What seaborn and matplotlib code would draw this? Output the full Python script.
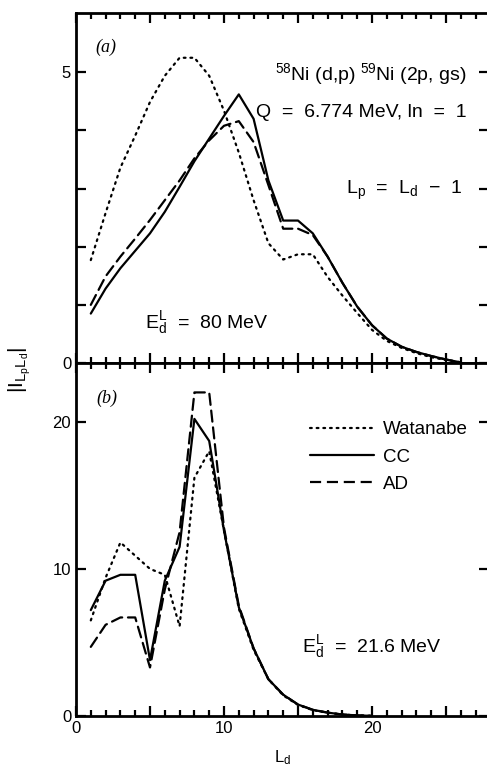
import numpy as np
import pandas as pd
import matplotlib
matplotlib.use("Agg")
import matplotlib.pyplot as plt
from matplotlib.lines import Line2D
from matplotlib.ticker import MultipleLocator, FixedLocator
import seaborn as sns

# ---------------- data ----------------
models = ["Watanabe", "CC", "AD"]

L_a = list(range(1, 27))
wat_a = [1.77, 2.58, 3.36, 3.91, 4.49, 4.94, 5.25, 5.25, 4.94, 4.34, 3.62, 2.80, 2.06,
         1.78, 1.87, 1.87, 1.48, 1.16, 0.86, 0.57, 0.38, 0.26, 0.17, 0.10, 0.05, 0.01]
cc_a = [0.85, 1.28, 1.63, 1.93, 2.23, 2.60, 3.03, 3.47, 3.86, 4.25, 4.62, 4.20, 3.14,
        2.45, 2.45, 2.23, 1.83, 1.38, 0.97, 0.65, 0.42, 0.28, 0.19, 0.12, 0.06, 0.01]
ad_a = [1.00, 1.49, 1.83, 2.14, 2.46, 2.80, 3.14, 3.52, 3.83, 4.08, 4.16, 3.80, 3.06,
        2.31, 2.31, 2.20, 1.83, 1.38, 0.97, 0.65, 0.42, 0.28, 0.19, 0.12, 0.06, 0.01]

L_b = list(range(1, 21))
wat_b = [6.5, 9.4, 11.8, 10.9, 10.0, 9.6, 6.1, 16.2, 18.0, 12.6, 7.3, 4.5, 2.5,
         1.4, 0.75, 0.40, 0.22, 0.10, 0.04, 0.01]
cc_b = [7.2, 9.2, 9.6, 9.6, 3.8, 9.2, 11.5, 20.2, 18.7, 12.6, 7.4, 4.6, 2.5,
        1.45, 0.78, 0.42, 0.23, 0.10, 0.04, 0.01]
ad_b = [4.7, 6.2, 6.7, 6.7, 3.3, 8.6, 12.5, 22.0, 22.0, 12.8, 7.5, 4.6, 2.5,
        1.45, 0.78, 0.42, 0.23, 0.10, 0.04, 0.01]

x_ticklabels = ["0", "10", "20"]


def long_df(L, series):
    rows = []
    for name, vals in zip(models, series):
        for l, v in zip(L, vals):
            rows.append({"L": l, "I": v, "model": name})
    return pd.DataFrame(rows)


df_a = long_df(L_a, [wat_a, cc_a, ad_a])
df_b = long_df(L_b, [wat_b, cc_b, ad_b])

# ---------------- style ----------------
sns.set_style("ticks")
plt.rcParams["font.family"] = ["Liberation Sans", "DejaVu Sans"]
plt.rcParams["mathtext.fontset"] = "custom"
plt.rcParams["mathtext.rm"] = "Liberation Sans"
plt.rcParams["mathtext.it"] = "Liberation Sans:italic"
plt.rcParams["mathtext.bf"] = "Liberation Sans:bold"
plt.rcParams["text.color"] = "black"
plt.rcParams["axes.labelcolor"] = "black"
plt.rcParams["xtick.color"] = "black"
plt.rcParams["ytick.color"] = "black"

LW = 1.6
dash_map = {"Watanabe": (0.8, 2.2), "CC": "", "AD": (5, 2.6)}

W, H = 487, 768
fig = plt.figure(figsize=(W / 100, H / 100), dpi=100)
left_px, right_px = 76, 489
ax_a = fig.add_axes([left_px / W, 1 - 363 / H, (right_px - left_px) / W, (363 - 13) / H])
ax_b = fig.add_axes([left_px / W, 1 - 716 / H, (right_px - left_px) / W, (716 - 363) / H])

for ax, df in ((ax_a, df_a), (ax_b, df_b)):
    sns.lineplot(data=df, x="L", y="I", style="model", style_order=models,
                 dashes=dash_map, color="black", linewidth=LW, ax=ax, legend=False)
    for ln in ax.get_lines():
        ln.set_dash_capstyle("round")
    ax.set_xlim(0, (right_px - left_px) / 14.8)
    ax.xaxis.set_major_locator(MultipleLocator(5))
    ax.xaxis.set_minor_locator(MultipleLocator(1))
    ax.tick_params(which="both", direction="in", top=True, bottom=True,
                   left=True, right=True, width=1.6, labelsize=12,
                   colors="black", labelcolor="black")
    ax.tick_params(which="major", length=7)
    ax.tick_params(which="minor", length=4)
    for s in ax.spines.values():
        s.set_linewidth(2.0)
        s.set_color("black")
    ax.set_xlabel("")
    ax.set_ylabel("")
    ax.set_facecolor("white")

# top panel
ax_a.set_ylim(0, 6.02)
ax_a.yaxis.set_major_locator(FixedLocator([0, 1, 2, 3, 4, 5]))
ax_a.set_yticklabels(["0", "", "", "", "", "5"])
ax_a.tick_params(axis="x", labelbottom=False)

# bottom panel
ax_b.set_ylim(0, 24.0)
ax_b.yaxis.set_major_locator(FixedLocator([0, 10, 20]))
ax_b.set_yticklabels(["0", "10", "20"])
ax_b.xaxis.set_major_locator(FixedLocator([0, 5, 10, 15, 20, 25]))
ax_b.set_xticklabels(["0", "", "10", "", "20", ""])

FS = 14
# annotations (a)
ax_a.text(1.28, 5.43, "(a)", fontsize=13, family=["Liberation Serif"], style="italic",
          va="center", ha="left")
ax_a.text(26.4, 4.86, r"$^{58}$Ni (d,p) $^{59}$Ni (2p, gs)", fontsize=FS,
          ha="right", va="baseline")
ax_a.text(26.4, 4.23, "Q  =  6.774 MeV, ln  =  1", fontsize=FS, ha="right", va="baseline")
ax_a.text(26.1, 2.90, r"L$_\mathrm{p}$  =  L$_\mathrm{d}$  $-$  1", fontsize=FS,
          ha="right", va="baseline")
ax_a.text(4.66, 0.60, r"$\mathrm{E}_\mathrm{d}^\mathrm{L}$  =  80 MeV", fontsize=FS,
          ha="left", va="baseline")

# annotations (b)
ax_b.text(1.4, 21.6, "(b)", fontsize=13, family=["Liberation Serif"], style="italic",
          va="center", ha="left")
ax_b.text(15.3, 4.35, r"$\mathrm{E}_\mathrm{d}^\mathrm{L}$  =  21.6 MeV", fontsize=FS,
          ha="left", va="baseline")

handles = [Line2D([], [], color="black", lw=LW, dashes=(0.8, 2.2), dash_capstyle="round"),
           Line2D([], [], color="black", lw=LW),
           Line2D([], [], color="black", lw=LW, dashes=(5, 2.6))]
ax_b.legend(handles, models, loc="upper left",
            bbox_to_anchor=((310 - left_px) / (right_px - left_px), (716 - 421) / 353),
            frameon=False, fontsize=13.5, handlelength=3.4, handletextpad=0.5,
            labelspacing=0.55, borderpad=0, borderaxespad=0)

# axis labels
fig.text(20 / W, 1 - 370 / H, r"$|\mathrm{I}_{\mathrm{L_pL_d}}|$", rotation=90,
         fontsize=15, ha="center", va="center")
fig.text(283 / W, 1 - 758 / H, r"L$_\mathrm{d}$", fontsize=12, ha="center", va="center")

fig.savefig("out.png", dpi=100, facecolor="white")
